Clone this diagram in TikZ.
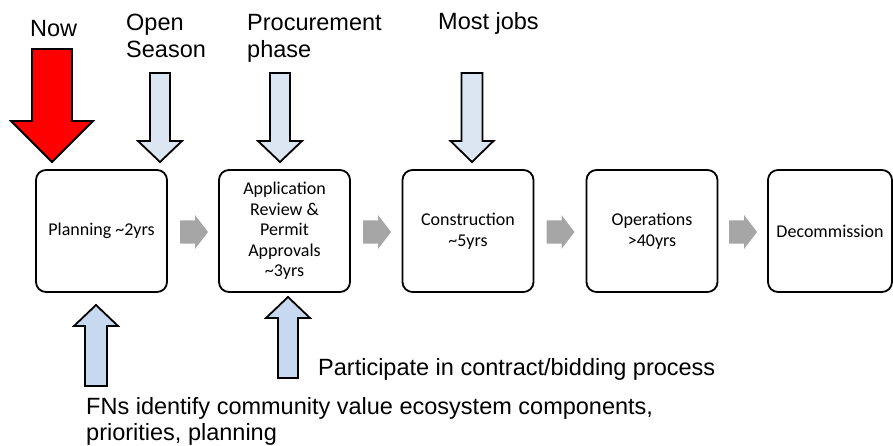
\documentclass[tikz,border=0pt]{standalone}
\usepackage{fontspec}
\setmainfont{Liberation Sans}
\newfontfamily\boxfont{Carlito}
\definecolor{toparrow}{HTML}{DCE6F2}
\definecolor{botarrow}{HTML}{C6D9F1}
\definecolor{nowred}{HTML}{FF0000}
\definecolor{flowgrey}{HTML}{A6A6A6}
% #1 tip x, #2 tip y, #3 shaft end y, #4 head base y, #5 shaft half width, #6 head half width, #7 style
\newcommand\blockarr[7]{\draw[blockarrow,#7] (#1-#5,#3) -- (#1+#5,#3) -- (#1+#5,#4) -- (#1+#6,#4) -- (#1,#2) -- (#1-#6,#4) -- (#1-#5,#4) -- cycle;}
% #1 centre x, #2 centre y
\newcommand\flowarr[2]{\fill[flowgrey] (#1-14,#2-11.5) -- (#1+1,#2-11.5) -- (#1+1,#2-17) -- (#1+14,#2) -- (#1+1,#2+17) -- (#1+1,#2+11.5) -- (#1-14,#2+11.5) -- cycle;}
\begin{document}
\begin{tikzpicture}[x=1pt,y=-1pt,
  stage/.style={draw=black, line width=1.8pt, rounded corners=10pt, minimum width=131pt, minimum height=122pt, align=center, inner sep=0pt, font=\boxfont\fontsize{18}{20.5}\selectfont},
  blockarrow/.style={draw=black, line width=1.8pt, line join=miter},
  lbl/.style={font=\fontsize{23.5}{26.5}\selectfont, inner sep=0pt, anchor=base west}]
\useasboundingbox (0,0) rectangle (893,446);
% stages
\node[stage] (p1) at (101.5,231) {Planning \textasciitilde2yrs};
\node[stage] (p2) at (284.5,231) {Application\\Review \&\\Permit\\Approvals\\\textasciitilde3yrs};
\node[stage] (p3) at (468,231) {Construction\\\textasciitilde5yrs};
\node[stage] (p4) at (652,231) {Operations\\>40yrs};
\node[stage, minimum width=124pt] (p5) at (830,231) {Decommission};
% flow arrows
\flowarr{194}{232}
\flowarr{377}{232}
\flowarr{560.5}{232}
\flowarr{743}{232}
% top arrows
\blockarr{52}{162}{49}{121}{20}{41}{fill=nowred}
\blockarr{160}{162}{73}{141}{10}{22}{fill=toparrow}
\blockarr{280}{162}{73}{141}{10}{22}{fill=toparrow}
\blockarr{472}{162}{73}{141}{10.5}{21.5}{fill=toparrow}
% bottom arrows
\blockarr{96}{305}{386}{326}{11}{22}{fill=botarrow}
\blockarr{288}{297}{378}{318}{10}{22}{fill=botarrow}
% labels
\node[lbl] (now) at (30,37) {Now};
\node[lbl] (open) at (126,31) {\begin{tabular}[t]{@{}l@{}}Open\\Season\end{tabular}};
\node[lbl] (proc) at (247,31) {\begin{tabular}[t]{@{}l@{}}Procurement\\phase\end{tabular}};
\node[lbl] (jobs) at (438,30) {Most jobs};
\node[lbl] (part) at (318,375) {Participate in contract/bidding process};
\node[lbl] (fns) at (86,414) {\begin{tabular}[t]{@{}l@{}}FNs identify community value ecosystem components,\\priorities, planning\end{tabular}};
\end{tikzpicture}
\end{document}
